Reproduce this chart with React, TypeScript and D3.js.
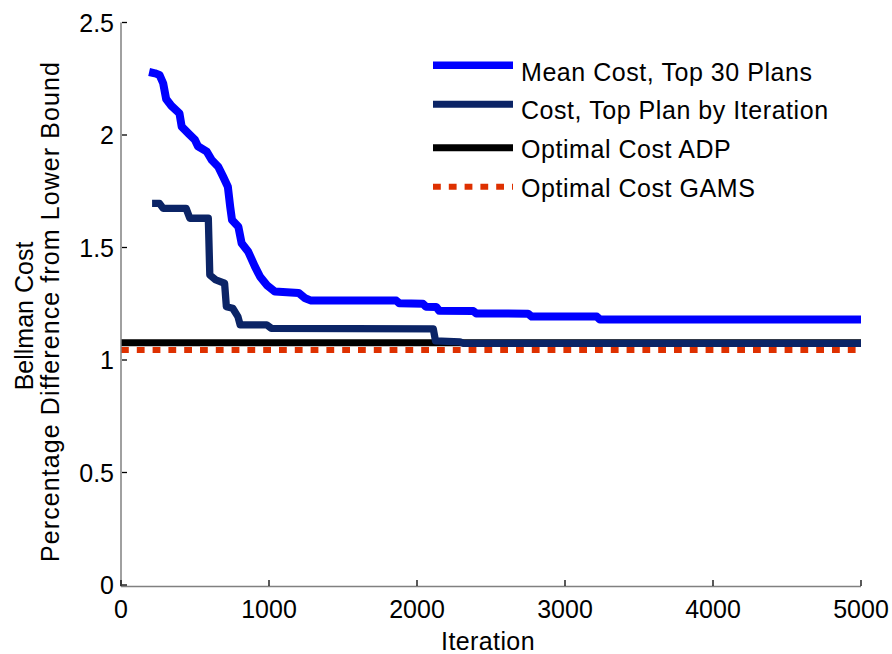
import React from "react";
import * as d3 from "d3";

const meanCostIter = [190, 230, 260, 285, 305, 340, 395, 410, 455, 500, 520, 580, 613, 657, 690, 722, 738, 750, 793, 815, 860, 905, 940, 985, 1040, 1200, 1245, 1280, 1860, 1880, 2040, 2060, 2130, 2150, 2380, 2400, 2750, 2775, 3215, 3236, 5000];
const meanCostVal = [2.28, 2.274, 2.267, 2.23, 2.16, 2.13, 2.096, 2.037, 2.007, 1.978, 1.95, 1.926, 1.889, 1.859, 1.815, 1.77, 1.68, 1.622, 1.592, 1.519, 1.481, 1.415, 1.37, 1.333, 1.304, 1.298, 1.274, 1.265, 1.264, 1.252, 1.25, 1.237, 1.236, 1.219, 1.218, 1.207, 1.206, 1.193, 1.193, 1.18, 1.18];

const topPlanIter = [210, 260, 285, 440, 465, 590, 600, 640, 700, 712, 755, 790, 805, 985, 1015, 2110, 2125, 2290, 2315, 5000];
const topPlanVal = [1.696, 1.696, 1.674, 1.674, 1.63, 1.63, 1.378, 1.356, 1.341, 1.237, 1.23, 1.193, 1.156, 1.156, 1.141, 1.138, 1.085, 1.081, 1.074, 1.074];

const optimalADP = 1.077;
const optimalGAMS = 1.044;
const iterRange = [0, 5000];

const xTicks = [0, 1000, 2000, 3000, 4000, 5000];
const yTicks = [0, 0.5, 1, 1.5, 2, 2.5];

const legendLabels = ["Mean Cost, Top 30 Plans", "Cost, Top Plan by Iteration", "Optimal Cost ADP", "Optimal Cost GAMS"];

const FONT = "'Liberation Sans', Arial, Helvetica, sans-serif";
const BLUE = "#0000ff";
const NAVY = "#0b2466";
const BLACK = "#000000";
const RED = "#de3000";

export default function App() {
  const x = d3.scaleLinear().domain([0, 5000]).range([121, 861]);
  const y = d3.scaleLinear().domain([0, 2.5]).range([585, 22.5]);

  const line = d3
    .line<[number, number]>()
    .x((d) => x(d[0]))
    .y((d) => y(d[1]));

  const meanPts: [number, number][] = meanCostIter.map((v, i) => [v, meanCostVal[i]]);
  const topPts: [number, number][] = topPlanIter.map((v, i) => [v, topPlanVal[i]]);
  const adpPts: [number, number][] = iterRange.map((v) => [v, optimalADP]);
  const gamsPts: [number, number][] = iterRange.map((v) => [v, optimalGAMS]);

  const legendLineY = [65.3, 104.3, 147.7, 186.7];
  const legendTextY = [80.5, 119, 158, 197];
  const legendStyles = [
    { stroke: BLUE, width: 7.5, dash: undefined },
    { stroke: NAVY, width: 7, dash: undefined },
    { stroke: BLACK, width: 7, dash: undefined },
    { stroke: RED, width: 6, dash: "7.8 8" },
  ];

  return (
    <svg
      width={892}
      height={654}
      style={{ position: "absolute", left: 0, top: 0, background: "#fff" }}
      fontFamily={FONT}
    >
      <rect x={0} y={0} width={892} height={654} fill="#fff" />

      {/* data lines */}
      <path d={line(adpPts) || ""} fill="none" stroke={BLACK} strokeWidth={7} />
      <path d={line(gamsPts) || ""} fill="none" stroke={RED} strokeWidth={6} strokeDasharray="7.8 8" />
      <path d={line(topPts) || ""} fill="none" stroke={NAVY} strokeWidth={7.3} strokeLinejoin="round" />
      <path d={line(meanPts) || ""} fill="none" stroke={BLUE} strokeWidth={8} strokeLinejoin="round" />

      {/* axes */}
      <line x1={x(0)} x2={x(0)} y1={y(2.5)} y2={y(0) + 1.5} stroke="#808080" strokeWidth={1.5} />
      <line x1={x(0)} x2={x(5000)} y1={y(0) + 1.5} y2={y(0) + 1.5} stroke="#808080" strokeWidth={1.5} />

      {yTicks.map((t) => (
        <g key={"y" + t}>
          <line x1={x(0) + 1} x2={x(0) + 6} y1={y(t)} y2={y(t)} stroke="#000" strokeWidth={1.3} />
          <text x={114} y={y(t) + 9} textAnchor="end" fontSize={25} fill="#000">
            {String(t)}
          </text>
        </g>
      ))}
      {xTicks.map((t) => (
        <g key={"x" + t}>
          <line x1={x(t)} x2={x(t)} y1={y(0) + 1} y2={y(0) - 5} stroke="#000" strokeWidth={1.3} />
          <text x={x(t)} y={617.5} textAnchor="middle" fontSize={25} fill="#000">
            {String(t)}
          </text>
        </g>
      ))}

      {/* axis labels */}
      <text x={488} y={650} textAnchor="middle" fontSize={25} letterSpacing={0.4} fill="#000">
        Iteration
      </text>
      <text transform="translate(33,316) rotate(-90)" textAnchor="middle" fontSize={25} fill="#000">
        Bellman Cost
      </text>
      <text
        transform="translate(59,312) rotate(-90)"
        textAnchor="middle"
        fontSize={25}
        textLength={500}
        lengthAdjust="spacing"
        fill="#000"
      >
        Percentage Difference from Lower Bound
      </text>

      {/* legend */}
      {legendLabels.map((lab, i) => (
        <g key={lab}>
          <line
            x1={433}
            x2={513}
            y1={legendLineY[i]}
            y2={legendLineY[i]}
            stroke={legendStyles[i].stroke}
            strokeWidth={legendStyles[i].width}
            strokeDasharray={legendStyles[i].dash}
          />
          <text x={521} y={legendTextY[i]} fontSize={25} letterSpacing={0.55} fill="#000">
            {lab}
          </text>
        </g>
      ))}
    </svg>
  );
}
